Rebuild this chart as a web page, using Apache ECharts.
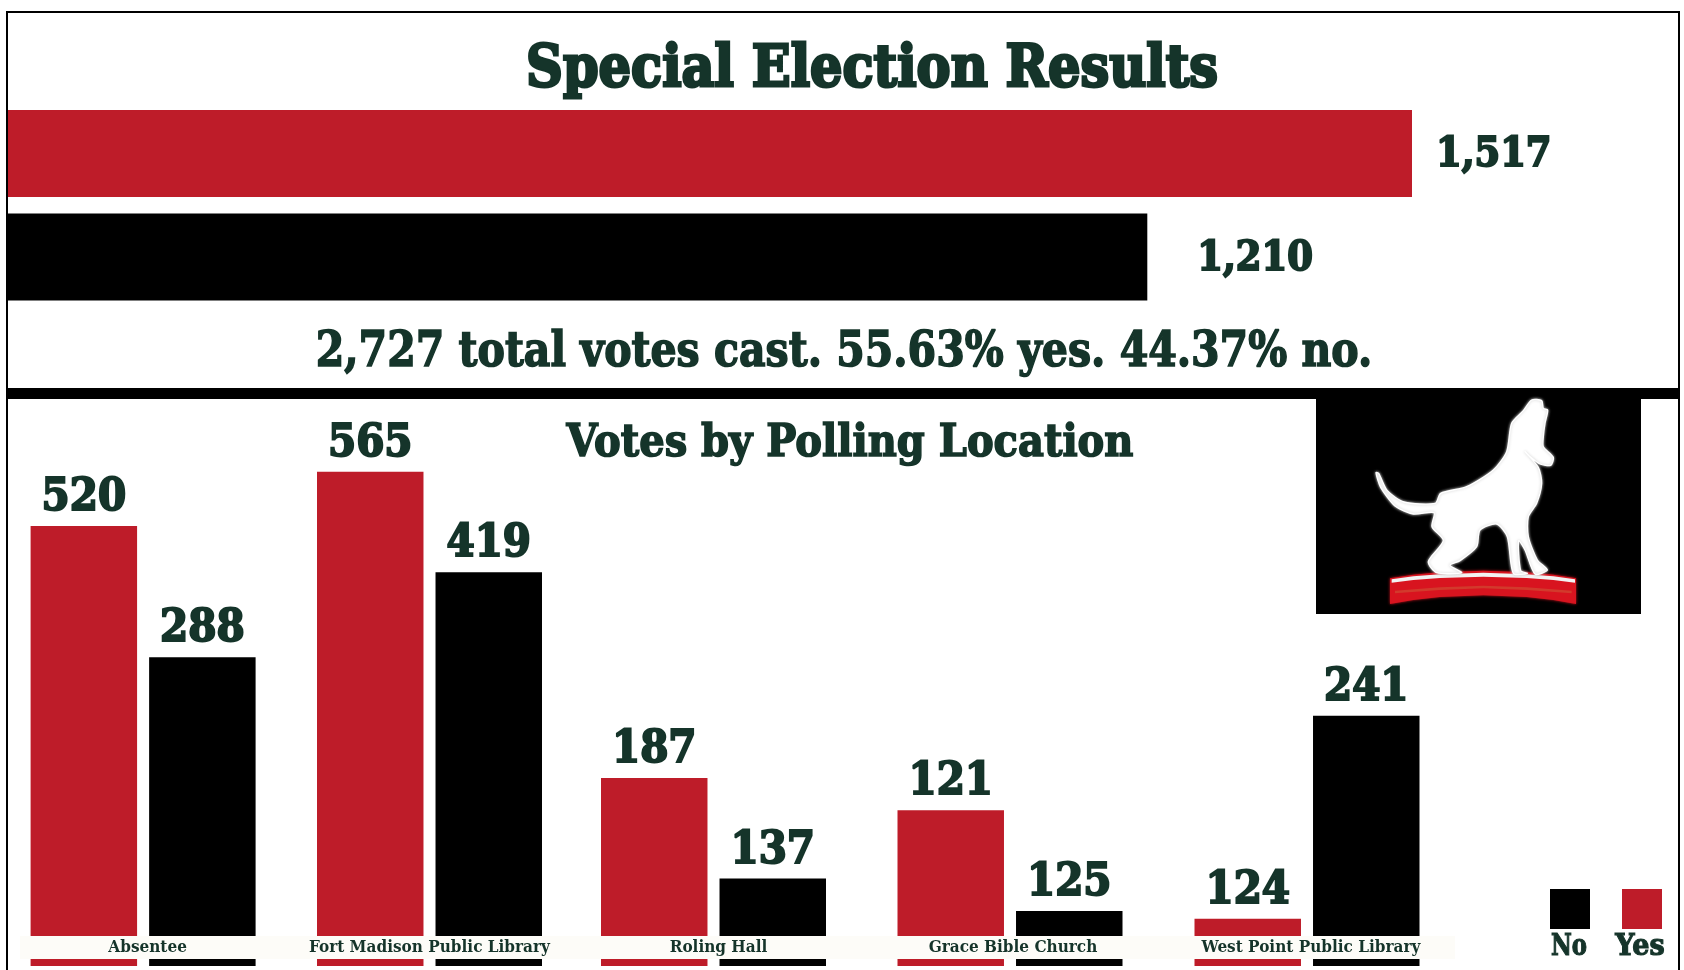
<!DOCTYPE html>
<html>
<head>
<meta charset="utf-8">
<style>html,body{margin:0;padding:0;background:#fff}#c{width:1684px;height:970px}</style>
<script src="https://cdn.jsdelivr.net/npm/echarts@6/dist/echarts.min.js"></script>
</head>
<body>
<div id="c"></div>
<script>
// Overall result: printed vote totals.
const overallCategories = ['Yes', 'No'];
const overallVotes = [1517, 1210];
// The reference's bars are not proportional to their printed numbers, so the
// lengths as drawn in the picture are kept apart from the printed votes.
const overallDrawn = [1517, 1231];

// By polling location: printed votes.
const locations = ['Absentee', 'Fort Madison Public Library', 'Roling Hall', 'Grace Bible Church', 'West Point Public Library'];
const yesVotes = [520, 565, 187, 121, 124];
const noVotes = [288, 419, 137, 125, 241];
// Bar heights as drawn in the picture, in units where the tallest bar = 565.
const yesDrawn = [503, 565, 215, 178, 54];
const noDrawn = [353, 450, 100, 63, 286];

const titleText = 'Special Election Results';
const subtitleText = '2,727 total votes cast. 55.63% yes. 44.37% no.';
const sectionText = 'Votes by Polling Location';

// Layout only
const RED = '#be1c29', BLACK = '#000000', INK = '#15342a';
const FONT = '"DejaVu Serif Condensed","DejaVu Serif",serif';
const groupLefts = [30.6, 317, 601, 897.5, 1194.5];
const axisLabelNudge = [9, 0, 10, 6, 8];
const overallGaps = [24, 50];

function heavyLabel(size) {
  return { fontFamily: FONT, fontWeight: 'bold', fontSize: size, color: INK, textBorderColor: INK, textBorderWidth: 2 };
}
function txt(text, cx, cy, size, sx, stroke, z) {
  return {
    type: 'text', x: cx, y: cy, scaleX: sx, z: z || 20,
    style: { text, fill: INK, stroke: INK, lineWidth: stroke, align: 'center', verticalAlign: 'middle',
      font: 'bold ' + size + 'px "DejaVu Serif"' }
  };
}
function box(x, y, w, h, fill, z) {
  return { type: 'rect', z: z || 15, shape: { x, y, width: w, height: h }, style: { fill } };
}
function poly(points, z, style, smooth) {
  return { type: 'polygon', z, x: 1280, y: 380, scaleX: 1 / 3, scaleY: 1 / 3, shape: { points, smooth: smooth || 0 }, style };
}

const grids = [{ left: 8, top: 101.75, width: 1404, height: 207 }];
const xAxes = [{ type: 'value', gridIndex: 0, min: 0, max: 1517, show: false }];
const yAxes = [{ type: 'category', gridIndex: 0, data: overallCategories, inverse: true, show: false }];
const series = [{
  type: 'bar', name: 'Overall', xAxisIndex: 0, yAxisIndex: 0, barWidth: 87, z: 2,
  data: overallDrawn.map((v, i) => ({
    value: v,
    itemStyle: { color: i === 0 ? RED : BLACK },
    label: {
      show: true, position: 'right', distance: overallGaps[i], offset: [0, 2],
      formatter: overallVotes[i].toLocaleString('en-US'),
      ...heavyLabel(41)
    }
  }))
}];

locations.forEach((loc, i) => {
  const g = i + 1;
  grids.push({ left: groupLefts[i], top: 441, width: 225, height: 525 });
  xAxes.push({
    type: 'category', gridIndex: g, data: [loc], z: 30,
    axisLine: { show: false }, axisTick: { show: false },
    axisLabel: { inside: true, margin: 10, interval: 0, padding: [0, 0, 0, axisLabelNudge[i]], fontFamily: FONT, fontWeight: 'bold', fontSize: 17, color: INK }
  });
  yAxes.push({ type: 'value', gridIndex: g, min: 0, max: 600, show: false });
  [['Yes', yesDrawn[i], yesVotes[i], RED], ['No', noDrawn[i], noVotes[i], BLACK]].forEach(([name, drawn, votes, color]) => {
    series.push({
      type: 'bar', name, xAxisIndex: g, yAxisIndex: g, barWidth: 106.5, barGap: '11.3%', z: 2,
      itemStyle: { color },
      label: { show: true, position: 'top', distance: 6, offset: [0, 1], formatter: String(votes), ...heavyLabel(45) },
      data: [drawn]
    });
  });
});

// Logo artwork, traced in the zoomed (3x) crop's coordinate space
const dogOutline = [[755,60],[785,62],[790,85],[803,90],[795,130],[790,170],[790,200],[820,232],[812,256],[780,252],[748,228],[735,215],[775,262],[785,310],[770,370],[745,410],[745,470],[772,540],[802,570],[765,582],[735,510],[716,482],[722,572],[742,580],[700,580],[682,470],[650,432],[600,450],[590,500],[540,542],[510,556],[545,578],[470,578],[445,545],[490,482],[456,440],[462,398],[400,402],[345,378],[302,322],[288,278],[296,280],[322,332],[372,366],[466,370],[482,340],[560,320],[640,270],[680,215],[695,130],[730,92]];
const baseOutline = [[330,595],[400,584],[480,577],[610,572],[740,577],[820,584],[888,595],[888,672],[820,660],[740,651],[610,646],[480,651],[400,660],[330,672]];
const baseStripe = [[335,598],[400,589],[480,583],[610,578],[740,583],[820,589],[885,598],[885,608],[820,600],[740,594],[610,590],[480,594],[400,600],[335,608]];
const baseGlow = [[345,632],[480,622],[610,617],[740,622],[875,632],[875,640],[740,630],[610,625],[480,630],[345,640]];

const chart = echarts.init(document.getElementById('c'), null, { renderer: 'canvas' });
chart.setOption({
  animation: false,
  backgroundColor: '#ffffff',
  grid: grids, xAxis: xAxes, yAxis: yAxes, series,
  legend: {
    data: ['No', 'Yes'], left: 1550, top: 889, orient: 'horizontal',
    itemWidth: 40, itemHeight: 40, itemGap: 32, padding: 0, selectedMode: false,
    icon: 'rect', formatter: () => '', textStyle: { padding: 0, fontSize: 1 }
  },
  graphic: [
    box(6, 11, 2, 959, BLACK), box(6, 11, 1674, 2, BLACK), box(1678, 11, 2, 959, BLACK),
    box(7, 388, 1673, 11, BLACK),
    box(20, 936, 1435, 23, '#fdfcf8', 10),
    box(1316, 399, 325, 215, BLACK),
    poly(baseOutline, 16, { fill: '#d8141f', shadowBlur: 3, shadowColor: '#d8141f' }),
    poly(baseGlow, 16.5, { fill: '#d23a2c' }),
    poly(baseStripe, 17, { fill: '#f2f2f2' }),
    poly(dogOutline, 18, { fill: '#ffffff', stroke: '#ffffff', lineWidth: 4, lineJoin: 'round', shadowBlur: 3, shadowColor: '#cccccc' }, 0.25),
    txt(titleText, 872, 71, 58, 0.88, 3),
    txt(subtitleText, 844, 354, 48, 0.855, 1.6),
    txt(sectionText, 850, 445, 44, 0.91, 1.6),
    txt('No', 1569, 947, 30, 0.76, 1.2),
    txt('Yes', 1640, 947, 30, 0.9, 1.2)
  ]
});
</script>
</body>
</html>
